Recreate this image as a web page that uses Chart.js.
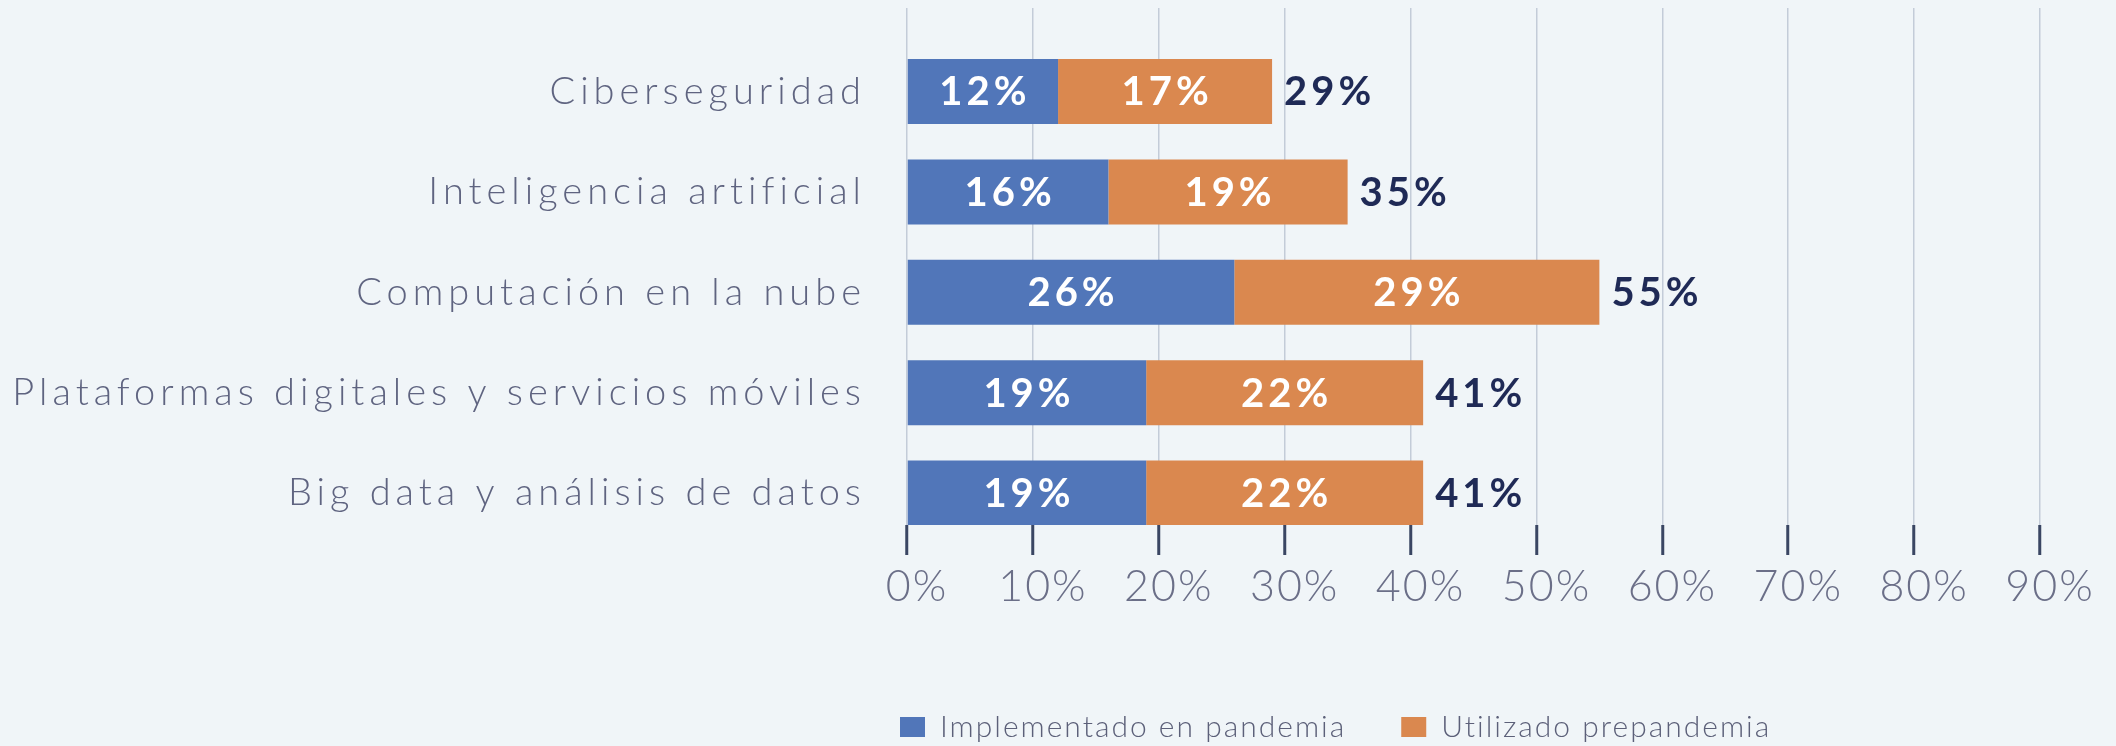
<!DOCTYPE html>
<html>
<head>
<meta charset="utf-8">
<script src="https://cdn.jsdelivr.net/npm/chart.js@4/dist/chart.umd.min.js"></script>
<style>
  html, body { margin: 0; padding: 0; background: #f0f5f8; }
  #contenedor { width: 2116px; height: 746px; position: relative; }
</style>
</head>
<body>
<div id="contenedor"><canvas id="grafico"></canvas></div>
<script>
const categorias = ['Ciberseguridad', 'Inteligencia artificial', 'Computación en la nube', 'Plataformas digitales y servicios móviles', 'Big data y análisis de datos'];
const pandemia = [12, 16, 26, 19, 19];
const prepandemia = [17, 19, 29, 22, 22];
const totales = [29, 35, 55, 41, 41];
const ticksX = [0, 10, 20, 30, 40, 50, 60, 70, 80, 90];

const fuente = 'Lato';
const yMin = -0.832;
const yMax = 4.318;

const etiquetas = {
  id: 'etiquetas',
  beforeUpdate(chart) {
    chart.ctx.letterSpacing = '2px';
  },
  beforeDraw(chart) {
    chart.ctx.letterSpacing = '2px';
    const lg = chart.legend;
    lg.left = chart.chartArea.left - 7 - lg.options.labels.padding;
  },
  afterDatasetsDraw(chart) {
    const ctx = chart.ctx;
    ctx.save();
    ctx.letterSpacing = '4px';
    ctx.font = 'bold 40px ' + fuente;
    ctx.textBaseline = 'middle';
    ctx.textAlign = 'center';
    ctx.fillStyle = '#ffffff';
    chart.data.datasets.forEach((ds, i) => {
      chart.getDatasetMeta(i).data.forEach((bar, j) => {
        ctx.fillText(ds.data[j].x + '%', (bar.x + bar.base) / 2 + 2, bar.y + 1);
      });
    });
    ctx.textAlign = 'left';
    ctx.fillStyle = '#1f2a56';
    const ultimo = chart.getDatasetMeta(chart.data.datasets.length - 1).data;
    ultimo.forEach((bar, j) => {
      ctx.fillText(totales[j] + '%', bar.x + 12, bar.y + 1);
    });
    ctx.restore();
    // espaciado para las etiquetas del eje y (se dibujan despues, z = 1)
    ctx.letterSpacing = '5px';
  }
};

new Chart(document.getElementById('grafico'), {
  type: 'bar',
  data: {
    datasets: [
      {
        label: 'Implementado en pandemia',
        data: pandemia.map((v, i) => ({ x: v, y: i })),
        backgroundColor: '#5176b9'
      },
      {
        label: 'Utilizado prepandemia',
        data: prepandemia.map((v, i) => ({ x: v, y: i })),
        backgroundColor: '#da884f'
      }
    ]
  },
  options: {
    indexAxis: 'y',
    responsive: true,
    maintainAspectRatio: false,
    animation: false,
    categoryPercentage: 1,
    barPercentage: 0.648,
    layout: { padding: { top: 8, right: 76, left: 0, bottom: 0 } },
    plugins: {
      tooltip: { enabled: false },
      legend: {
        position: 'bottom',
        align: 'start',
        maxHeight: 89,
        labels: {
          boxWidth: 25,
          boxHeight: 20,
          padding: 55,
          color: '#5c6079',
          font: { family: fuente, size: 30, weight: 300 }
        }
      }
    },
    scales: {
      x: {
        type: 'linear',
        min: 0,
        max: 90,
        stacked: true,
        afterBuildTicks: s => { s.ticks = ticksX.map(v => ({ value: v })); },
        afterFit: s => { s.height = 132; s.paddingLeft = 0; s.paddingRight = 0; },
        border: { display: false },
        grid: { color: '#c3ccd8', lineWidth: 1.5, tickColor: '#3a4663', tickWidth: 3, tickLength: 30 },
        ticks: {
          color: '#6b6f88',
          padding: 6,
          labelOffset: 10,
          font: { family: fuente, size: 43, weight: 300 },
          callback: v => v + '%'
        }
      },
      y: {
        type: 'linear',
        reverse: true,
        min: yMin,
        max: yMax,
        offset: false,
        bounds: 'data',
        stacked: true,
        afterBuildTicks: s => {
          s.ticks = categorias.map((c, i) => ({ value: i }));
          s.min = yMin;
          s.max = yMax;
        },
        afterFit: s => { s.width = 907; s.paddingTop = 0; s.paddingBottom = 0; },
        border: { display: false },
        grid: { display: false, offset: false },
        ticks: {
          z: 1,
          color: '#5f6480',
          padding: 33,
          font: { family: fuente, size: 38, weight: 300 },
          callback: v => categorias[v]
        }
      }
    }
  },
  plugins: [etiquetas]
});
</script>
</body>
</html>
